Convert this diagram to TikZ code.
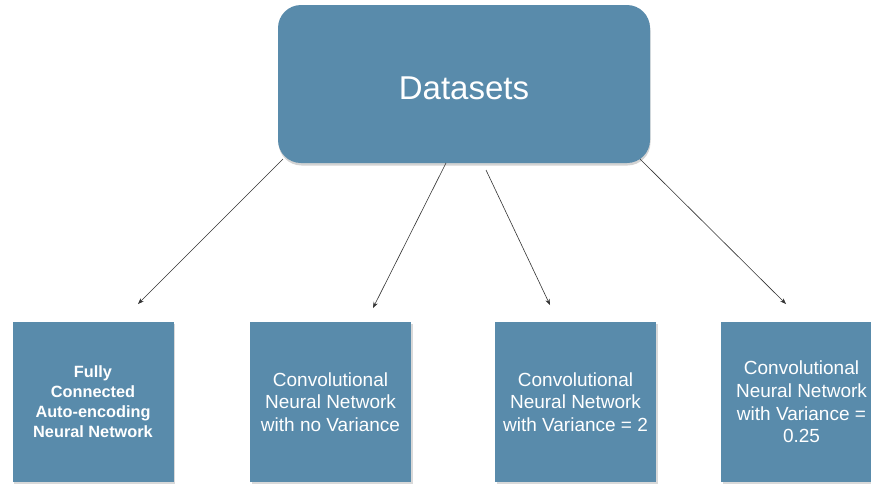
\documentclass[tikz,border=0pt]{standalone}
\usepackage{fontspec}
\setmainfont{Liberation Sans}
\usetikzlibrary{shadows,arrows.meta}
\definecolor{boxblue}{RGB}{89,139,171}
\begin{document}
\begin{tikzpicture}[x=1pt,y=-1pt,
  topbox/.style={draw=none, fill=boxblue, rounded corners=23pt, minimum width=372pt, minimum height=158pt,
    text=white, font=\fontsize{33}{38}\selectfont, drop shadow={shadow xshift=0.5pt, shadow yshift=-2.5pt, opacity=0.35}},
  leafbox/.style={draw=none, fill=boxblue, minimum width=161pt, minimum height=160pt, inner sep=0pt,
    text=white, align=center, font=\fontsize{19}{22.6}\selectfont, drop shadow={shadow xshift=1.5pt, shadow yshift=-1.5pt, opacity=0.3}},
  boldtext/.style={font=\fontsize{16.3}{20}\selectfont\bfseries},
  arr/.style={draw=black!80, line width=0.6pt, -{Stealth[length=6pt,width=4.5pt]}}
]
\useasboundingbox (0,0) rectangle (871,483);
\clip (0,0) rectangle (871,483);
\node[topbox] (top) at (464,84) {\raisebox{-15pt}[0pt][0pt]{Datasets}};
\node[leafbox, boldtext] (b1) at (93,402) {Fully\\Connected\\Auto-encoding\\Neural Network};
\node[leafbox] (b2) at (330.5,402) {Convolutional\\Neural Network\\with no Variance};
\node[leafbox] (b3) at (575.5,402) {Convolutional\\Neural Network\\with Variance = 2};
\node[leafbox] (b4) at (801.5,402) {Convolutional\\Neural Network\\with Variance =\\0.25};
\coordinate (s1) at (283,159);
\coordinate (e1) at (138,304);
\coordinate (s2) at (446,163);
\coordinate (e2) at (373,308);
\coordinate (s3) at (486,170);
\coordinate (e3) at (550,305);
\coordinate (s4) at (640,159);
\coordinate (e4) at (786,304);
\draw[arr] (s1) -- (e1);
\draw[arr] (s2) -- (e2);
\draw[arr] (s3) -- (e3);
\draw[arr] (s4) -- (e4);
\end{tikzpicture}
\end{document}
